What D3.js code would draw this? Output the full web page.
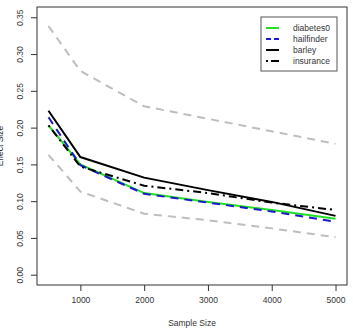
<!DOCTYPE html>
<html>
<head>
<meta charset="utf-8">
<script src="https://cdn.jsdelivr.net/npm/d3@7"></script>
<style>
  body { margin: 0; background: #fff; }
  svg text { font-family: "Liberation Sans", Arial, sans-serif; fill: #333; }
</style>
</head>
<body>
<div id="chart"></div>
<script>
var sizes = [500, 1000, 2000, 3000, 4000, 5000];
var diabetes0 = [0.203, 0.150, 0.111, 0.099, 0.088, 0.076];
var hailfinder = [0.214, 0.149, 0.110, 0.098, 0.086, 0.072];
var barley = [0.223, 0.160, 0.132, 0.115, 0.099, 0.080];
var insurance = [0.203, 0.147, 0.121, 0.111, 0.098, 0.088];
var upperBound = [0.338, 0.277, 0.229, 0.212, 0.195, 0.178];
var lowerBound = [0.163, 0.113, 0.083, 0.074, 0.063, 0.051];
var xTicks = [1000, 2000, 3000, 4000, 5000];
var yTicks = [0, 0.05, 0.10, 0.15, 0.20, 0.25, 0.30, 0.35];

var width = 353, height = 330;
var plotLeft = 37, plotRight = 347, plotTop = 7, plotBottom = 285;

var svg = d3.select("#chart").append("svg")
    .attr("width", width).attr("height", height);

// R style 4% axis extension
var xScale = d3.scaleLinear().domain([320, 5180]).range([plotLeft, plotRight]);
var yScale = d3.scaleLinear().domain([-0.014, 0.364]).range([plotBottom, plotTop]);

var line = d3.line()
    .x(function(d, i){ return xScale(sizes[i]); })
    .y(function(d){ return yScale(d); });

var series = [
    {vals: upperBound, color: "#bebebe", dash: "8,6", w: 2},
    {vals: lowerBound, color: "#bebebe", dash: "8,6", w: 2},
    {vals: diabetes0, color: "#22e022", dash: null, w: 2},
    {vals: hailfinder, color: "#1a1acc", dash: "8,6", w: 2},
    {vals: barley, color: "#000", dash: null, w: 2},
    {vals: insurance, color: "#000", dash: "2,4,8,4", w: 2}
];

svg.selectAll("path.series")
    .data(series)
    .enter()
    .append("path")
    .attr("class", "series")
    .attr("d", function(s){ return line(s.vals); })
    .attr("fill", "none")
    .attr("stroke", function(s){ return s.color; })
    .attr("stroke-width", function(s){ return s.w; })
    .attr("stroke-dasharray", function(s){ return s.dash; });

// plot frame
svg.append("rect")
    .attr("x", plotLeft).attr("y", plotTop)
    .attr("width", plotRight - plotLeft).attr("height", plotBottom - plotTop)
    .attr("fill", "none").attr("stroke", "#333").attr("stroke-width", 1);

var xAxis = d3.axisBottom(xScale).tickValues(xTicks).tickSize(6).tickPadding(6)
    .tickFormat(d3.format("d"));
var gx = svg.append("g")
    .attr("transform", "translate(0," + plotBottom + ")")
    .call(xAxis);
gx.select(".domain").remove();
gx.selectAll("line").attr("stroke", "#333");
gx.selectAll("text").attr("font-size", 8.5).style("fill", "#333");

var yAxis = d3.axisLeft(yScale).tickValues(yTicks).tickSize(6)
    .tickFormat(d3.format(".2f"));
var gy = svg.append("g")
    .attr("transform", "translate(" + plotLeft + ",0)")
    .call(yAxis);
gy.select(".domain").remove();
gy.selectAll("line").attr("stroke", "#333");
gy.selectAll("text")
    .attr("font-size", 8.5)
    .attr("x", 0).attr("dy", 0)
    .attr("text-anchor", "middle")
    .attr("transform", "translate(-14,0) rotate(-90)")
    .style("fill", "#333");

svg.append("text")
    .attr("x", (plotLeft + plotRight) / 2).attr("y", 326)
    .attr("text-anchor", "middle").attr("font-size", 8.5)
    .text("Sample Size");

svg.append("text")
    .attr("transform", "translate(3," + ((plotTop + plotBottom) / 2) + ") rotate(-90)")
    .attr("text-anchor", "middle").attr("font-size", 8.5)
    .text("Effect Size");

// legend
var legendItems = [
    {name: "diabetes0", s: series[2]},
    {name: "hailfinder", s: series[3]},
    {name: "barley", s: series[4]},
    {name: "insurance", s: series[5]}
];
var lg = svg.append("g");
lg.append("rect")
    .attr("x", 261).attr("y", 17).attr("width", 76).attr("height", 54)
    .attr("fill", "#fff").attr("stroke", "#555").attr("stroke-width", 1);
var rows = lg.selectAll("g.row")
    .data(legendItems)
    .enter()
    .append("g")
    .attr("transform", function(d, i){ return "translate(0," + (28 + i * 11) + ")"; });
rows.append("line")
    .attr("x1", 266).attr("x2", 279).attr("y1", 0).attr("y2", 0)
    .attr("stroke", function(d){ return d.s.color; })
    .attr("stroke-width", 2)
    .attr("stroke-dasharray", function(d){ return d.s.dash ? (d.name == "insurance" ? "2,3,8,4" : "5,3") : null; });
rows.append("text")
    .attr("x", 293).attr("y", 3)
    .attr("font-size", 8.5)
    .text(function(d){ return d.name; });
</script>
</body>
</html>
